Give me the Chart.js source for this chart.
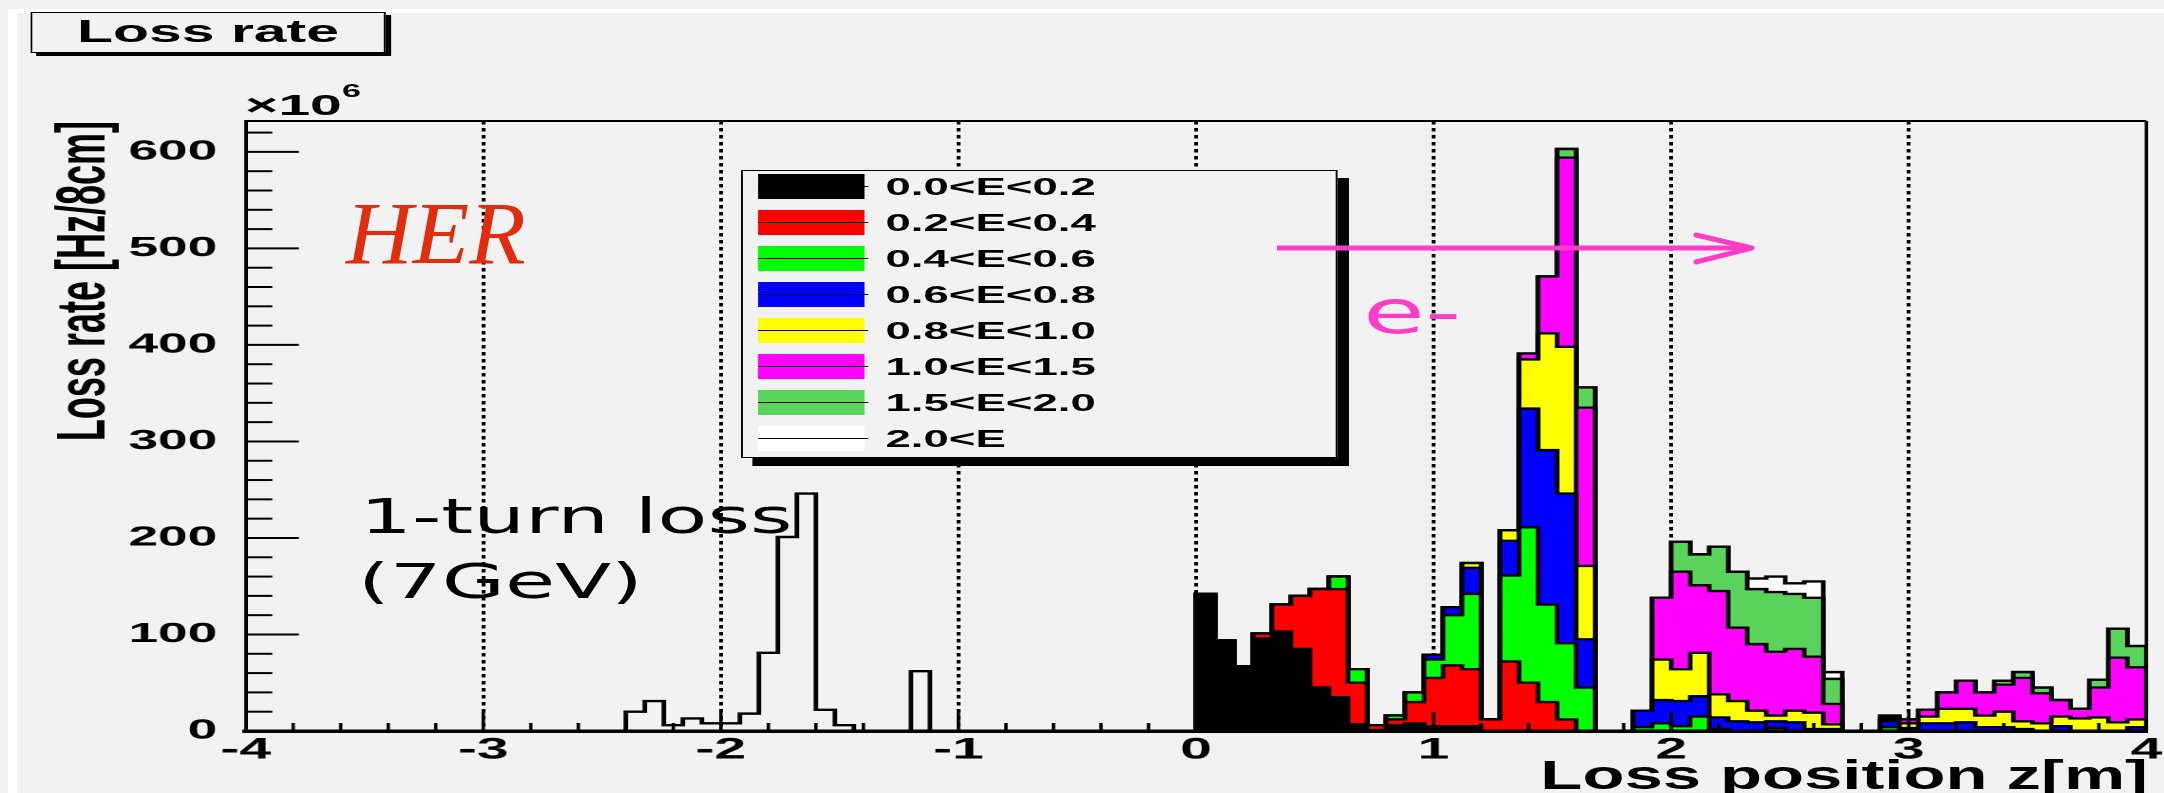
<!DOCTYPE html>
<html>
<head>
<meta charset="utf-8">
<script src="https://cdn.jsdelivr.net/npm/chart.js@4.4.1/dist/chart.umd.min.js"></script>
<style>
  html, body { margin: 0; padding: 0; background: #f2f2f2; }
  body { width: 2164px; height: 793px; position: relative; overflow: hidden; font-family: "Liberation Sans", Arial, sans-serif; }
  .bevel { position: absolute; background: #fff; }
  #stretch { position: absolute; left: 0; top: 0; width: 1139px; height: 793px; transform: scaleX(1.9); transform-origin: 0 0; }
  #chart { position: absolute; left: 0; top: 0; }
  #titlebox { position: absolute; left: 16px; top: 12px; width: 187px; height: 41px; box-sizing: border-box;
    border: 1.5px solid #000; box-shadow: 3px 3px 0 #000; background: #f2f2f2;
    font-weight: bold; font-size: 31px; line-height: 38px; text-align: center; }
  #mult { position: absolute; left: 129px; top: 90px; font-weight: bold; font-size: 30px; line-height: 30px; white-space: nowrap; }
  #mult6 { position: absolute; left: 180px; top: 82px; font-weight: bold; font-size: 18px; line-height: 18px; }
  #legend { position: absolute; left: 390px; top: 170px; width: 314px; height: 288px; box-sizing: border-box;
    border: 1.7px solid #000; box-shadow: 6px 8px 0 #000; background: #f2f2f2; }
  .sw { position: absolute; left: 8px; width: 56px; height: 25px; }
  .sl { position: absolute; left: 8px; width: 58px; height: 1.7px; background: #000; }
  .lt { position: absolute; left: 75px; font-weight: bold; font-size: 24px; line-height: 25px; white-space: nowrap; }
  #notes { position: absolute; left: 0; top: 0; pointer-events: none; }
</style>
</head>
<body>
<div class="bevel" style="left:8px;top:9px;width:9px;height:784px"></div>
<div class="bevel" style="left:8px;top:9px;width:2156px;height:4px"></div>

<div id="stretch">
  <canvas id="chart" width="1139" height="793"></canvas>
  <div id="titlebox">Loss rate</div>
  <div id="mult">×10</div>
  <div id="mult6">6</div>
  <div id="legend"></div>
</div>

<svg id="notes" width="2164" height="793">
  <text transform="translate(346,263) scale(1.05,1)" font-family="Liberation Serif" font-style="italic" font-size="88" fill="#e22c0e">HER</text>
  <text transform="translate(360,533) scale(1.7,1)" font-family="DejaVu Sans" font-size="48" fill="#000">1-turn loss</text>
  <text transform="translate(358,598) scale(1.7,1)" font-family="DejaVu Sans" font-size="48" fill="#000">(7GeV)</text>
  <text transform="translate(1363,333) scale(1.68,1)" font-family="DejaVu Sans" font-size="60" fill="#ff3ec8">e-</text>
  <line x1="1277" y1="248" x2="1748" y2="248" stroke="#ff3ec8" stroke-width="5"/>
  <polyline points="1696,235 1752,248 1696,262" fill="none" stroke="#ff3ec8" stroke-width="5" stroke-linecap="round" stroke-linejoin="round"/>
  <text transform="translate(2148,789) scale(1.72,1)" text-anchor="end" font-family="Liberation Sans" font-weight="bold" font-size="40" fill="#000">Loss position z[m]</text>
</svg>

<script>
// histogram bins are 8 cm wide
var binWidth = 0.08;
var stackStartZ = 0.0;
var oneTurnStartZ = -2.40;

var zTickLabels = [-4, -3, -2, -1, 0, 1, 2, 3, 4];
var rateTickLabels = [0, 100, 200, 300, 400, 500, 600];

var energyBands = ['0.0<E<0.2', '0.2<E<0.4', '0.4<E<0.6', '0.6<E<0.8',
                   '0.8<E<1.0', '1.0<E<1.5', '1.5<E<2.0', '2.0<E'];
var bandColors = ['#000000', '#ff0000', '#00ff00', '#0000ff', '#ffff00', '#ff00ff', '#59d359', '#ffffff'];

// loss rate per bin (x10^6 Hz/8cm), bins from z=0.00 to z=3.92
var e00to02 = [142, 94, 67, 96, 103, 85, 45, 35, 7, 1,   6, 8, 5, 5, 5, 0, 0, 0, 0, 0,
               0, 0, 0, 0, 0, 0, 0, 0, 0, 0,   0, 0, 0, 0, 0, 0, 0, 0, 0, 0,   0, 0, 0, 0, 0, 0, 0, 0, 0, 0];
var e02to04 = [0, 0, 0, 5, 28, 55, 102, 112, 43, 5,   6, 22, 50, 63, 59, 12, 72, 50, 30, 12,
               0, 0, 0, 0, 0, 0, 0, 0, 0, 0,   0, 0, 0, 0, 0, 0, 0, 0, 0, 0,   0, 0, 0, 0, 0, 0, 0, 0, 0, 0];
var e04to06 = [0, 0, 0, 0, 0, 0, 0, 13, 14, 0,   4, 10, 19, 52, 78, 0, 89, 161, 101, 79,
               45, 0, 0, 4, 8, 5, 15, 2, 0, 0,   3, 0, 0, 0, 0, 0, 4, 0, 0, 0,   0, 0, 0, 0, 0, 0, 0, 0, 0, 0];
var e06to08 = [0, 0, 0, 0, 0, 0, 0, 0, 0, 0,   0, 0, 5, 8, 27, 0, 36, 123, 160, 155,
               50, 0, 0, 17, 24, 26, 21, 12, 10, 9,   7, 9, 2, 2, 0, 0, 6, 3, 8, 8,   9, 4, 4, 2, 0, 5, 0, 0, 0, 4];
var e08to10 = [0, 0, 0, 0, 0, 0, 0, 0, 0, 0,   0, 0, 0, 0, 5, 0, 11, 51, 121, 152,
               76, 0, 0, 0, 42, 33, 45, 24, 21, 12,   6, 12, 17, 5, 0, 0, 2, 5, 7, 15,   14, 12, 16, 8, 8, 10, 13, 14, 9, 8];
var e10to15 = [0, 0, 0, 0, 0, 0, 0, 0, 0, 0,   0, 0, 0, 0, 0, 0, 0, 6, 59, 196,
               164, 0, 0, 0, 64, 101, 70, 107, 76, 69,   66, 64, 58, 21, 0, 0, 2, 4, 7, 17,   29, 24, 28, 45, 31, 17, 10, 31, 67, 54];
var e15to20 = [0, 0, 0, 0, 0, 0, 0, 0, 0, 0,   0, 0, 0, 0, 0, 0, 0, 0, 0, 9,
               21, 0, 0, 0, 0, 31, 32, 46, 58, 57,   62, 57, 61, 26, 0, 0, 2, 0, 0, 0,   0, 0, 4, 6, 6, 0, 0, 8, 30, 22];
var e20up   = [0, 0, 0, 0, 0, 0, 0, 0, 0, 0,   0, 0, 0, 0, 0, 0, 0, 0, 0, 0,
               0, 0, 0, 0, 0, 0, 0, 0, 0, 11,   16, 11, 17, 7, 0, 0, 0, 0, 0, 0,   0, 0, 0, 0, 0, 0, 0, 0, 0, 0];

// 1-turn loss (7GeV), bins from z=-2.40 to z=-1.20
var oneTurn7GeV = [20, 31, 6, 13, 8, 8, 18, 81, 201, 246, 22, 6, 0, 0, 0, 62];

var bandValues = [e00to02, e02to04, e04to06, e06to08, e08to10, e10to15, e15to20, e20up];


// points on the left bin edges, drawn as a step outline
function histPoints(z0, vals) {
    var pts = [{x: z0, y: 0}];
    for (var k = 0; k < vals.length; k++) {
        pts.push({x: z0 + k * binWidth, y: vals[k]});
    }
    var zEnd = z0 + vals.length * binWidth;
    pts.push({x: zEnd, y: vals[vals.length - 1]});
    pts.push({x: zEnd, y: 0});
    return pts;
}

// stacked like THStack: each band drawn as cumulative sum
var datasets = [];
var running = e00to02.map(function() { return 0; });
bandValues.forEach(function(vals, b) {
    running = running.map(function(r, k) { return r + vals[k]; });
    datasets.push({
        label: energyBands[b],
        data: histPoints(stackStartZ, running),
        backgroundColor: bandColors[b],
        borderColor: '#000',
        borderWidth: 2.4,
        fill: 'origin',
        stepped: 'before',
        pointRadius: 0,
        borderJoinStyle: 'miter'
    });
});
datasets.push({
    label: '1-turn loss (7GeV)',
    data: histPoints(oneTurnStartZ, oneTurn7GeV),
    borderColor: '#000',
    borderWidth: 2.4,
    fill: false,
    stepped: 'before',
    pointRadius: 0,
    borderJoinStyle: 'miter'
});


// legend box
var legend = document.getElementById('legend');
energyBands.forEach(function(name, i) {
    var top = 2.8 + 36 * i;
    legend.innerHTML +=
        '<div class="sw" style="top:' + top + 'px;background:' + bandColors[i] + '"></div>' +
        '<div class="sl" style="top:' + (top + 11.7) + 'px"></div>' +
        '<div class="lt" style="top:' + top + 'px">' + name.replace(/</g, '&lt;') + '</div>';
});


// ROOT style frame + inner tick marks
var axisTicks = {
    id: 'axisTicks',
    afterDatasetsDraw: function(chart) {
        var ctx = chart.ctx, a = chart.chartArea;
        var x = chart.scales.x, y = chart.scales.y;
        ctx.save();
        ctx.strokeStyle = '#000';
        ctx.lineWidth = 2;
        ctx.beginPath();
        ctx.moveTo(a.left, a.top);
        ctx.lineTo(a.right, a.top);
        ctx.stroke();
        ctx.lineWidth = 1.8;
        ctx.beginPath();
        ctx.moveTo(a.right, a.top);
        ctx.lineTo(a.right, a.bottom);
        ctx.stroke();

        ctx.lineWidth = 2;
        for (var v = 20; v <= 620; v += 20) {
            var py = y.getPixelForValue(v);
            var len = (v % 100 === 0) ? 28 : 14;
            ctx.beginPath();
            ctx.moveTo(a.left, py);
            ctx.lineTo(a.left + len, py);
            ctx.stroke();
        }
        ctx.lineWidth = 1.8;
        for (var k = -19; k <= 19; k++) {
            var px = x.getPixelForValue(k / 5);
            var tl = (k % 5 === 0) ? 19 : 8;
            ctx.beginPath();
            ctx.moveTo(px, a.bottom);
            ctx.lineTo(px, a.bottom - tl);
            ctx.stroke();
        }
        ctx.restore();
    }
};


var chart = new Chart(document.getElementById('chart'), {
    type: 'line',
    data: {datasets: datasets},
    options: {
        responsive: false,
        animation: false,
        devicePixelRatio: 2,
        events: [],
        layout: {padding: {left: 0, right: 8, top: 121, bottom: 0}},
        plugins: {legend: {display: false}, tooltip: {enabled: false}},
        scales: {
            x: {
                type: 'linear',
                min: -4,
                max: 4,
                afterFit: function(s) { s.height = 62; },
                afterBuildTicks: function(s) {
                    s.ticks = zTickLabels.map(function(v) { return {value: v}; });
                },
                ticks: {
                    color: '#000',
                    padding: 1,
                    maxRotation: 0,
                    autoSkip: false,
                    font: {family: 'Liberation Sans', weight: 'bold', size: 30}
                },
                grid: {
                    drawTicks: false,
                    lineWidth: 2,
                    color: function(c) {
                        return (c.tick && Math.abs(c.tick.value) === 4) ? 'rgba(0,0,0,0)' : '#000';
                    }
                },
                border: {display: true, color: '#000', width: 3.5, dash: [3.5, 3.5], z: 1},
                title: {display: false}
            },
            y: {
                min: 0,
                max: 632,
                afterFit: function(s) { s.width = 129.3; },
                afterBuildTicks: function(s) {
                    s.ticks = rateTickLabels.map(function(v) { return {value: v}; });
                },
                ticks: {
                    color: '#000',
                    padding: 7,
                    font: {family: 'Liberation Sans', weight: 'bold', size: 28}
                },
                grid: {display: false},
                border: {display: true, color: '#000', width: 2, z: 1},
                title: {
                    display: true,
                    text: 'Loss rate [Hz/8cm]',
                    align: 'end',
                    color: '#000',
                    padding: {top: 27, bottom: 0},
                    font: {family: 'Liberation Sans', weight: 'bold', size: 36, lineHeight: 1}
                }
            }
        }
    },
    plugins: [axisTicks]
});
</script>
</body>
</html>
